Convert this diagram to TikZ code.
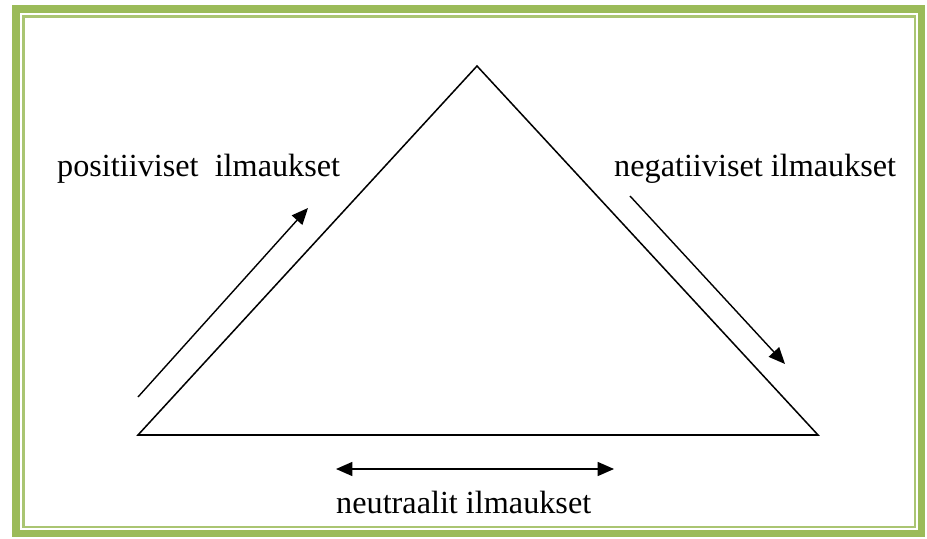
\documentclass[tikz,border=0pt]{standalone}
\usepackage{fontspec}
\setmainfont{Liberation Serif}
\usetikzlibrary{arrows.meta,positioning}

\definecolor{framegreen}{HTML}{9BBB59}

\begin{document}
\begin{tikzpicture}[x=0.03cm, y=-0.03cm,
    label text/.style={font=\fontsize{27.5pt}{33pt}\selectfont, anchor=base west, inner sep=0pt},
    flow arrow/.style={line width=1.2pt, -{Triangle[length=14pt,width=12pt]}}]
    \useasboundingbox (0,0) rectangle (927,539);

    % Page frame
    \draw[framegreen, line width=6.5pt] (16,9) rectangle (921.5,533.5);
    \draw[framegreen!85, line width=2.2pt] (23.5,16.5) rectangle (915,527);

    % Triangle
    \coordinate (apex) at (477,66);
    \coordinate (left) at (138,435);
    \coordinate (right) at (818,435);
    \draw[line width=1.3pt, line join=miter] (left) -- (apex) -- (right) -- cycle;

    % Arrows along the sides
    \coordinate (pos start) at (138,397);
    \coordinate (pos end) at (308,208);
    \draw[flow arrow] (pos start) -- (pos end);

    \coordinate (neg start) at (630,196);
    \coordinate (neg end) at (785,364);
    \draw[flow arrow] (neg start) -- (neg end);

    \coordinate (neu start) at (336,469);
    \coordinate (neu end) at (614,469);
    \draw[flow arrow, {Triangle[length=14pt,width=12pt]}-{Triangle[length=14pt,width=12pt]}] (neu start) -- (neu end);

    % Labels
    \node[label text] (positive) at (57,177) {positiiviset\ \ ilmaukset};
    \node[label text] (negative) at (614,177) {negatiiviset ilmaukset};
    \node[label text] (neutral) at (336,513) {neutraalit ilmaukset};
\end{tikzpicture}
\end{document}
